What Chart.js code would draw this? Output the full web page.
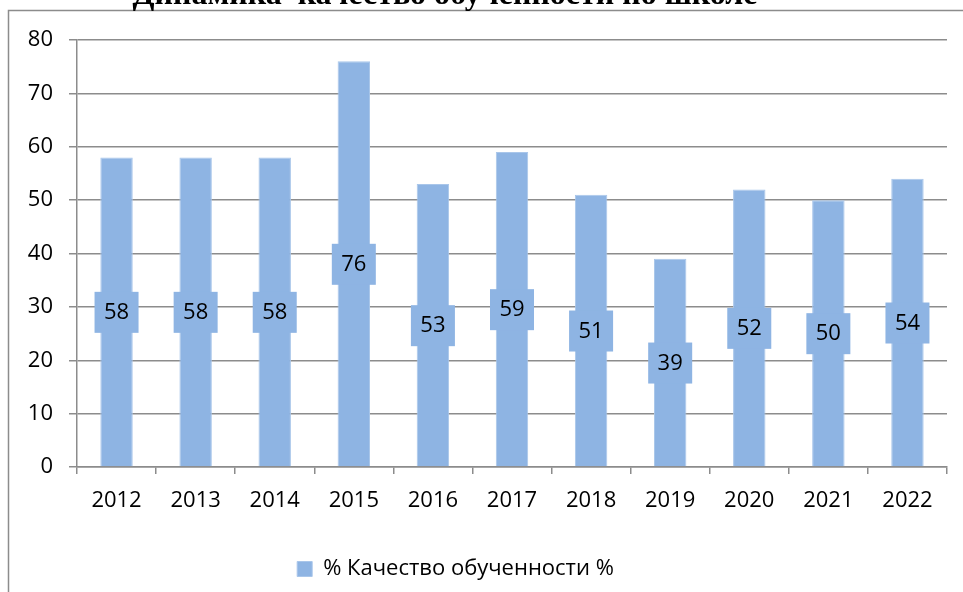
<!DOCTYPE html>
<html>
<head>
<meta charset="utf-8">
<script src="https://cdn.jsdelivr.net/npm/chart.js@4.4.0/dist/chart.umd.min.js"></script>
<style>
  html, body { margin: 0; padding: 0; background: #fff; }
  #wrap { width: 963px; height: 592px; }
</style>
</head>
<body>
<div id="wrap"><canvas id="chart" width="963" height="592"></canvas></div>
<script>
var years = ['2012', '2013', '2014', '2015', '2016', '2017', '2018', '2019', '2020', '2021', '2022'];
var quality = [58, 58, 58, 76, 53, 59, 51, 39, 52, 50, 54];
var seriesName = '% Качество обученности %';
var titleText = 'Динамика  качество обученности по школе';

var barColor = '#8EB4E3';
var gridColor = '#8C8C8C';
var fontFam = '"Open Sans", "Liberation Sans", sans-serif';

// frame + cut-off title
var framePlugin = {
  id: 'frame',
  beforeDraw: function(chart) {
    var ctx = chart.ctx;
    ctx.save();
    ctx.fillStyle = '#fff';
    ctx.fillRect(0, 0, chart.width, chart.height);
    ctx.strokeStyle = gridColor;
    ctx.lineWidth = 1.5;
    ctx.strokeRect(8.5, 10.5, 1000, 700);
    ctx.fillStyle = '#000';
    ctx.font = 'bold 32px "Liberation Serif", serif';
    ctx.textAlign = 'center';
    ctx.textBaseline = 'alphabetic';
    ctx.fillText(titleText, 445, 4);
    ctx.restore();
  }
};

// value labels in the middle of bars
var labelPlugin = {
  id: 'valueLabels',
  afterDatasetsDraw: function(chart) {
    var ctx = chart.ctx;
    var meta = chart.getDatasetMeta(0);
    ctx.save();
    ctx.font = '22px ' + fontFam;
    ctx.textAlign = 'center';
    ctx.textBaseline = 'middle';
    meta.data.forEach(function(bar, i) {
      var cy = (bar.y + bar.base) / 2;
      ctx.fillStyle = barColor;
      ctx.fillRect(bar.x - 22, cy - 20, 44, 41);
      ctx.fillStyle = '#000';
      ctx.fillText(String(quality[i]), bar.x, cy + 1);
    });
    ctx.restore();
  }
};

// shift legend a bit left like in the source
var legendShift = {
  id: 'legendShift',
  afterLayout: function(chart) {
    chart.legend.left -= 18;
    chart.legend.right -= 18;
  }
};

new Chart(document.getElementById('chart'), {
  type: 'bar',
  data: {
    labels: years,
    datasets: [{
      label: seriesName,
      data: quality,
      backgroundColor: barColor,
      borderColor: '#A9C6EA',
      borderWidth: 1,
      categoryPercentage: 1,
      barPercentage: 0.41
    }]
  },
  options: {
    responsive: false,
    animation: false,
    layout: { padding: { top: 40, right: 16, bottom: 2, left: 0 } },
    plugins: {
      legend: {
        position: 'bottom',
        labels: {
          font: { size: 22, family: fontFam },
          color: '#000',
          boxWidth: 15,
          boxHeight: 15,
          padding: 10
        }
      },
      tooltip: { enabled: false },
      title: { display: false }
    },
    scales: {
      x: {
        afterFit: function(s) { s.height = 81; },
        grid: {
          offset: true,
          drawOnChartArea: false,
          drawTicks: true,
          tickLength: 7,
          color: gridColor,
          lineWidth: 1.5
        },
        border: { color: gridColor, width: 1.5 },
        ticks: {
          font: { size: 22, family: fontFam },
          color: '#000',
          padding: 14,
          maxRotation: 0
        }
      },
      y: {
        min: 0,
        max: 80,
        afterFit: function(s) { s.width = 77; },
        grid: {
          color: gridColor,
          lineWidth: 1.5,
          tickLength: 8
        },
        border: { color: gridColor, width: 1.5 },
        ticks: {
          stepSize: 10,
          font: { size: 22, family: fontFam },
          color: '#000',
          padding: 16
        }
      }
    }
  },
  plugins: [framePlugin, labelPlugin, legendShift]
});
</script>
</body>
</html>
